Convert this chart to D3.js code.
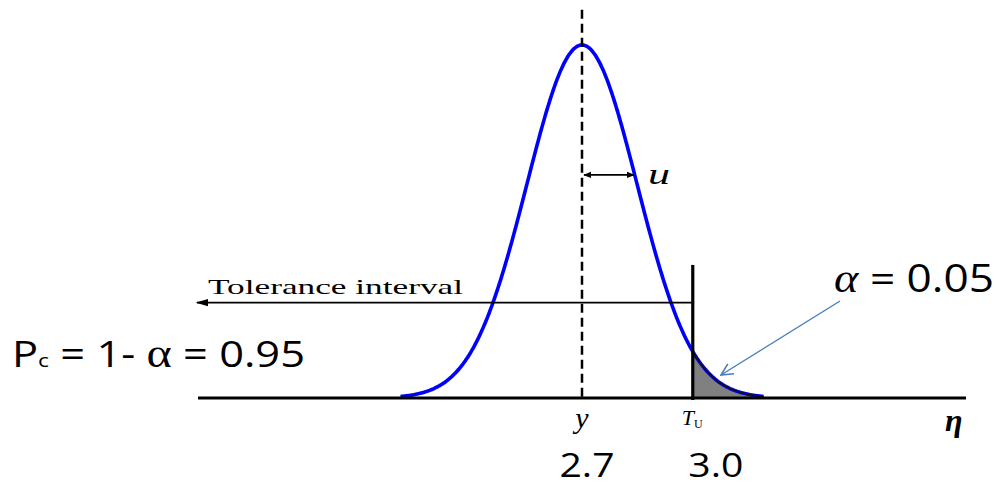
<!DOCTYPE html>
<html>
<head>
<meta charset="utf-8">
<script src="https://cdn.jsdelivr.net/npm/d3@7"></script>
<style>
  html, body { margin: 0; padding: 0; background: #fff; }
  svg { display: block; }
</style>
</head>
<body>
<svg id="chart" width="996" height="488"></svg>
<script>
// Measurand axis (η) and distribution parameters
const etaDomain = [1.66, 3.74];
const meanEta = 2.7;          // best estimate y
const stdU = 0.149;           // standard uncertainty u
const upperLimit = 3.0;       // upper tolerance limit T_U
const tickValues = [2.7, 3.0];
const tickLabels = ["2.7", "3.0"];
const alphaLabel = "0.05";
const pcLabel = "0.95";
const curveSpan = 3.3;        // curve drawn over mean ± span·u

const svg = d3.select("#chart");

const x = d3.scaleLinear().domain(etaDomain).range([198, 966]);
// relative probability density (peak = 1)
const y = d3.scaleLinear().domain([0, 1]).range([398, 45]);

const pdf = v => Math.exp(-0.5 * Math.pow((v - meanEta) / stdU, 2));
const pts = d3.range(-curveSpan, curveSpan + 1e-9, 0.02).map(z => meanEta + z * stdU);
const tailPts = pts.filter(v => v >= upperLimit);
tailPts.unshift(upperLimit);

const defs = svg.append("defs");
defs.append("marker").attr("id", "ah").attr("viewBox", "0 0 10 10")
  .attr("refX", 9).attr("refY", 5).attr("markerWidth", 7).attr("markerHeight", 7)
  .attr("orient", "auto-start-reverse")
  .append("path").attr("d", "M0,2 L10,5 L0,8 Z").attr("fill", "#000");
defs.append("marker").attr("id", "ahSmall").attr("viewBox", "0 0 10 10")
  .attr("refX", 9).attr("refY", 5).attr("markerWidth", 4.5).attr("markerHeight", 4.5)
  .attr("orient", "auto-start-reverse")
  .append("path").attr("d", "M0,1 L10,5 L0,9 Z").attr("fill", "#000");
defs.append("marker").attr("id", "openBlue").attr("viewBox", "0 0 12 12")
  .attr("refX", 11).attr("refY", 6).attr("markerWidth", 14).attr("markerHeight", 14)
  .attr("markerUnits", "userSpaceOnUse")
  .attr("orient", "auto")
  .append("path").attr("d", "M1,1 L11,6 L1,11").attr("fill", "none")
  .attr("stroke", "#4a7ebb").attr("stroke-width", 1.4);

// shaded tail beyond T_U
const area = d3.area().x(d => x(d)).y0(y(0)).y1(d => y(pdf(d))).curve(d3.curveBasis);
svg.append("path").datum(tailPts).attr("d", area).attr("fill", "#808080");

// distribution curve
const line = d3.line().x(d => x(d)).y(d => y(pdf(d))).curve(d3.curveBasis);
svg.append("path").datum(pts).attr("d", line)
  .attr("fill", "none").attr("stroke", "#0000ff").attr("stroke-width", 3.6);
svg.append("path").datum(tailPts).attr("d", line)
  .attr("fill", "none").attr("stroke", "#111").attr("stroke-width", 1.8);

// horizontal η axis
svg.append("line").attr("x1", x(etaDomain[0])).attr("x2", x(etaDomain[1]))
  .attr("y1", y(0)).attr("y2", y(0)).attr("stroke", "#000").attr("stroke-width", 3);

// dashed line at the best estimate
svg.append("line").attr("x1", x(meanEta)).attr("x2", x(meanEta))
  .attr("y1", y(1.1)).attr("y2", y(0)).attr("stroke", "#000")
  .attr("stroke-width", 2.5).attr("stroke-dasharray", "9,5");

// upper tolerance limit
svg.append("line").attr("x1", x(upperLimit)).attr("x2", x(upperLimit))
  .attr("y1", y(0.377)).attr("y2", y(0) + 2).attr("stroke", "#000").attr("stroke-width", 3.2);

// tolerance interval arrow
svg.append("line").attr("x1", x(upperLimit)).attr("x2", 197)
  .attr("y1", y(0.27)).attr("y2", y(0.27)).attr("stroke", "#000").attr("stroke-width", 1.8)
  .attr("marker-end", "url(#ah)");
svg.append("text").attr("x", 208).attr("y", 294)
  .attr("font-family", "'Liberation Serif', 'DejaVu Serif', serif").attr("font-size", 22)
  .attr("textLength", 255).attr("lengthAdjust", "spacingAndGlyphs")
  .text("Tolerance interval");

// standard uncertainty u
svg.append("line").attr("x1", x(meanEta) + 2).attr("x2", x(meanEta + stdU) - 3)
  .attr("y1", y(0.632)).attr("y2", y(0.632)).attr("stroke", "#000").attr("stroke-width", 1.8)
  .attr("marker-start", "url(#ahSmall)").attr("marker-end", "url(#ahSmall)");
svg.append("text").attr("x", 648).attr("y", 184)
  .attr("font-family", "'Liberation Serif', serif").attr("font-style", "italic").attr("font-size", 30)
  .attr("textLength", 22).attr("lengthAdjust", "spacingAndGlyphs")
  .text("u");

// symbolic axis labels
svg.append("text").attr("x", x(meanEta)).attr("y", 428).attr("text-anchor", "middle")
  .attr("font-family", "'Liberation Serif', serif").attr("font-style", "italic").attr("font-size", 30)
  .text("y");
const tu = svg.append("text").attr("x", x(upperLimit) - 11).attr("y", 425)
  .attr("font-family", "'Liberation Serif', serif").attr("font-style", "italic").attr("font-size", 22);
tu.append("tspan").text("T");
tu.append("tspan").attr("font-size", 12).attr("font-style", "normal").attr("dy", 3).text("U");
svg.append("text").attr("x", 945).attr("y", 431)
  .attr("font-family", "'Liberation Serif', serif").attr("font-style", "italic").attr("font-weight", "bold")
  .attr("font-size", 32).text("η");

// numeric tick labels
const tickOffsets = [5, 23];
svg.selectAll("text.tick").data(tickValues).enter().append("text").attr("class", "tick")
  .attr("x", (d, i) => x(d) + tickOffsets[i]).attr("y", 477).attr("text-anchor", "middle")
  .attr("font-family", "'Open Sans', 'Noto Sans', sans-serif").attr("font-size", 33)
  .attr("textLength", 55).attr("lengthAdjust", "spacingAndGlyphs")
  .text((d, i) => tickLabels[i]);

// α annotation
const al = svg.append("text").attr("x", 834).attr("y", 292)
  .attr("font-size", 40).attr("textLength", 160).attr("lengthAdjust", "spacingAndGlyphs");
al.append("tspan").attr("font-family", "'Liberation Serif', serif").attr("font-style", "italic").text("α");
al.append("tspan").attr("font-family", "'Open Sans', 'Noto Sans', sans-serif").attr("font-size", 38)
  .text(" = " + alphaLabel);
svg.append("line").attr("x1", 840).attr("y1", 301).attr("x2", 721).attr("y2", 375)
  .attr("stroke", "#4a7ebb").attr("stroke-width", 1.4).attr("marker-end", "url(#openBlue)");

// coverage probability
const pc = svg.append("text").attr("x", 12).attr("y", 367)
  .attr("font-family", "'Open Sans', 'Noto Sans', sans-serif").attr("font-size", 36)
  .attr("textLength", 293).attr("lengthAdjust", "spacingAndGlyphs");
pc.append("tspan").text("P");
pc.append("tspan").attr("font-size", 19).text("c");
pc.append("tspan").text(" = 1- ");
pc.append("tspan").attr("font-family", "'Liberation Serif', serif").attr("font-size", 40).text("α");
pc.append("tspan").text(" = " + pcLabel);
</script>
</body>
</html>
